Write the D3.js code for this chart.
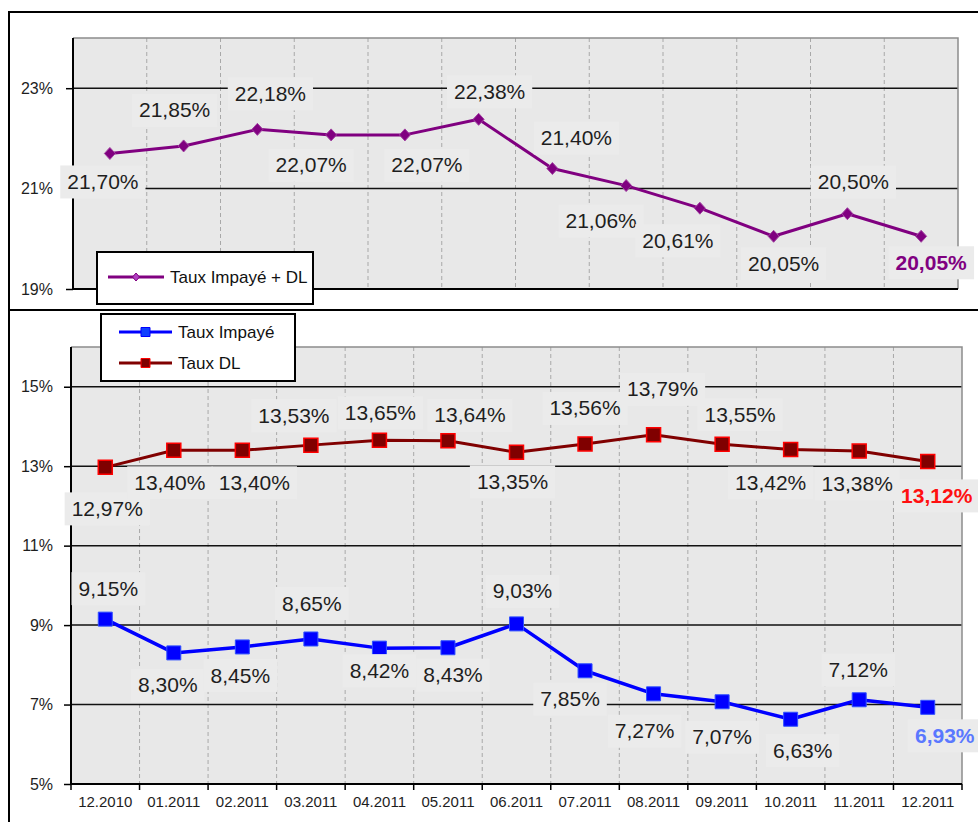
<!DOCTYPE html>
<html>
<head>
<meta charset="utf-8">
<script src="https://cdn.jsdelivr.net/npm/d3@7"></script>
<style>
  body { margin: 0; background: #fff; }
  svg { display: block; font-family: "Liberation Sans", Arial, sans-serif; }
</style>
</head>
<body>
<svg width="978" height="822"></svg>
<script>
var topCats = ["01.2011", "02.2011", "03.2011", "04.2011", "05.2011", "06.2011",
               "07.2011", "08.2011", "09.2011", "10.2011", "11.2011", "12.2011"];
var bottomCats = ["12.2010", "01.2011", "02.2011", "03.2011", "04.2011", "05.2011", "06.2011",
                  "07.2011", "08.2011", "09.2011", "10.2011", "11.2011", "12.2011"];

var tauxImpayeDL = [21.70, 21.85, 22.18, 22.07, 22.07, 22.38, 21.40, 21.06, 20.61, 20.05, 20.50, 20.05];
var tauxDL = [12.97, 13.40, 13.40, 13.53, 13.65, 13.64, 13.35, 13.56, 13.79, 13.55, 13.42, 13.38, 13.12];
var tauxImpaye = [9.15, 8.30, 8.45, 8.65, 8.42, 8.43, 9.03, 7.85, 7.27, 7.07, 6.63, 7.12, 6.93];

var topTicks = [19, 21, 23];
var bottomTicks = [5, 7, 9, 11, 13, 15];

// where each value label sits relative to its point
var offImpayeDL = [[-7, 28], [-9, -36], [13, -36], [-20, 30], [22, 30], [11, -28],
                   [24, -31], [-25, 35], [-22, 32], [10, 27], [6, -32], [10, 26]];
var offDL = [[2, 41], [-4, 32], [12, 32], [-17, -30], [1, -28], [22, -26], [-4, 29],
             [0, -36], [9, -46], [18, -30], [-20, 33], [-2, 32], [9, 34]];
var offImpaye = [[3, -31], [-6, 32], [-2, 28], [1, -36], [0, 22], [5, 27], [6, -33],
                 [-15, 28], [-9, 37], [0, 35], [12, 31], [-1, -30], [17, 28]];

var svg = d3.select("svg");
var pct = d3.formatLocale({decimal: ",", thousands: " ", grouping: [3], currency: ["", ""]}).format(".2f");
var textColor = "#1e1e1e";

// panel frames
svg.append("rect").attr("x", 9).attr("y", 12).attr("width", 990).attr("height", 298)
    .attr("fill", "#fff").attr("stroke", "#000").attr("stroke-width", 2);
svg.append("rect").attr("x", 9).attr("y", 310).attr("width", 990).attr("height", 530)
    .attr("fill", "#fff").attr("stroke", "#000").attr("stroke-width", 2);

var xTop = d3.scaleBand().domain(topCats).range([73, 958]);
var yTop = d3.scaleLinear().domain([19, 24]).range([289, 38]);
var xBot = d3.scaleBand().domain(bottomCats).range([71, 962]);
var yBot = d3.scaleLinear().domain([5, 16]).range([784, 347]);

function plotArea(x, y, ticks, padding) {
  var x0 = x.range()[0], x1 = x.range()[1], y0 = y.range()[0], y1 = y.range()[1];
  var g = svg.append("g");

  g.append("rect").attr("x", x0).attr("y", y1).attr("width", x1 - x0).attr("height", y0 - y1)
      .attr("fill", "#e8e8e8");

  g.selectAll(".vgrid")
    .data(x.domain().slice(1))
    .enter().append("line")
      .attr("x1", function(d) { return x(d); })
      .attr("x2", function(d) { return x(d); })
      .attr("y1", y1).attr("y2", y0)
      .attr("stroke", "#a8a8a8").attr("stroke-dasharray", "4,3");

  g.selectAll(".hgrid")
    .data(ticks.filter(function(t) { return t > y.domain()[0]; }))
    .enter().append("line")
      .attr("x1", x0).attr("x2", x1)
      .attr("y1", function(d) { return y(d); })
      .attr("y2", function(d) { return y(d); })
      .attr("stroke", "#111").attr("stroke-width", 1.5);

  // gray top / right border
  g.append("path")
      .attr("d", "M" + x0 + "," + y1 + "H" + x1 + "V" + y0)
      .attr("fill", "none").attr("stroke", "#8c8c8c").attr("stroke-width", 1.5);

  var ax = g.append("g")
      .attr("transform", "translate(" + x0 + ",0)")
      .call(d3.axisLeft(y).tickValues(ticks).tickSize(7).tickPadding(padding)
        .tickFormat(function(d) { return d + "%"; }));
  ax.select(".domain").remove();
  ax.selectAll(".tick line").attr("stroke", "#000").attr("stroke-width", 1.5);
  ax.selectAll(".tick text").attr("font-size", 16).attr("fill", textColor)
      .attr("font-family", "'Liberation Sans', Arial, sans-serif");

  g.append("path")
      .attr("d", "M" + x0 + "," + y1 + "V" + y0 + "H" + x1)
      .attr("fill", "none").attr("stroke", "#000").attr("stroke-width", 2);
  return g;
}

function drawSeries(g, values, cats, x, y, color, lineWidth, marker) {
  var cx = function(d, i) { return x(cats[i]) + x.bandwidth() / 2; };
  var line = d3.line().x(cx).y(function(d) { return y(d); });
  g.append("path").datum(values)
      .attr("d", line)
      .attr("fill", "none").attr("stroke", color).attr("stroke-width", lineWidth)
      .attr("stroke-linejoin", "round");
  g.selectAll(null).data(values)
    .enter().append("path")
      .attr("transform", function(d, i) { return "translate(" + cx(d, i) + "," + y(d) + ")"; })
      .attr("d", marker.d)
      .attr("fill", marker.fill).attr("stroke", marker.stroke).attr("stroke-width", marker.sw);
}

function drawLabels(g, values, cats, x, y, offsets, lastColor) {
  var lab = g.selectAll(null).data(values)
    .enter().append("g")
      .attr("transform", function(d, i) {
        return "translate(" + (x(cats[i]) + x.bandwidth() / 2 + offsets[i][0]) + "," + (y(d) + offsets[i][1]) + ")";
      });
  lab.append("rect").attr("fill", "#ebebeb");
  lab.append("text")
      .attr("text-anchor", "middle")
      .attr("dy", "0.36em")
      .attr("font-size", 21)
      .attr("font-weight", function(d, i) { return i == values.length - 1 ? "bold" : "normal"; })
      .attr("fill", function(d, i) { return i == values.length - 1 ? lastColor : textColor; })
      .text(function(d) { return pct(d) + "%"; });
  lab.each(function() {
    var b = d3.select(this).select("text").node().getBBox();
    d3.select(this).select("rect")
        .attr("x", b.x - 7).attr("width", b.width + 14)
        .attr("y", -16).attr("height", 33);
  });
}

function legend(x0, y0, w, h, items) {
  var g = svg.append("g");
  g.append("rect").attr("x", x0).attr("y", y0).attr("width", w).attr("height", h)
      .attr("fill", "#fff").attr("stroke", "#000").attr("stroke-width", 2);
  var it = g.selectAll(null).data(items)
    .enter().append("g")
      .attr("transform", function(d) { return "translate(" + d.x + "," + d.y + ")"; });
  it.append("line").attr("x1", 0).attr("x2", function(d) { return d.len; })
      .attr("stroke", function(d) { return d.color; }).attr("stroke-width", 3);
  it.append("path")
      .attr("transform", function(d) { return "translate(" + d.len / 2 + ",0)"; })
      .attr("d", function(d) { return d.marker.d; })
      .attr("fill", function(d) { return d.marker.fill; })
      .attr("stroke", function(d) { return d.marker.stroke; })
      .attr("stroke-width", 1);
  it.append("text")
      .attr("x", function(d) { return d.len + 6; })
      .attr("dy", "0.36em")
      .attr("font-size", 17).attr("fill", "#111")
      .text(function(d) { return d.name; });
}

var diamond = {d: "M0,-6L5.5,0L0,6L-5.5,0Z", fill: "#800080", stroke: "#a040a0", sw: 1};
var blueSq = {d: "M-7,-7H7V7H-7Z", fill: "#0000ff", stroke: "#3050ff", sw: 1};
var redSq = {d: "M-7,-7H7V7H-7Z", fill: "#800000", stroke: "#ff0000", sw: 1.5};

// top chart
var gTop = plotArea(xTop, yTop, topTicks, 13);
drawSeries(gTop, tauxImpayeDL, topCats, xTop, yTop, "#800080", 3, diamond);
drawLabels(gTop, tauxImpayeDL, topCats, xTop, yTop, offImpayeDL, "#800080");

// bottom chart
var gBot = plotArea(xBot, yBot, bottomTicks, 11);
var xAx = gBot.append("g")
    .attr("transform", "translate(0,784)")
    .call(d3.axisBottom(xBot).tickSize(0).tickPadding(12));
xAx.select(".domain").remove();
xAx.selectAll(".tick text").attr("font-size", 15).attr("fill", textColor)
    .attr("font-family", "'Liberation Sans', Arial, sans-serif");
gBot.selectAll(".xtick")
  .data(bottomCats.concat(["end"]))
  .enter().append("line")
    .attr("x1", function(d) { return d == "end" ? xBot.range()[1] : xBot(d); })
    .attr("x2", function(d) { return d == "end" ? xBot.range()[1] : xBot(d); })
    .attr("y1", 784).attr("y2", 790)
    .attr("stroke", "#000").attr("stroke-width", 1.5);

drawSeries(gBot, tauxDL, bottomCats, xBot, yBot, "#800000", 3, redSq);
drawSeries(gBot, tauxImpaye, bottomCats, xBot, yBot, "#0000ff", 3.5, blueSq);
drawLabels(gBot, tauxDL, bottomCats, xBot, yBot, offDL, "#ff1010");
drawLabels(gBot, tauxImpaye, bottomCats, xBot, yBot, offImpaye, "#5a78ff");

legend(97, 252, 216, 52, [
  {name: "Taux Impayé + DL", color: "#800080", x: 108, y: 277, len: 56,
   marker: {d: "M0,-4L3.5,0L0,4L-3.5,0Z", fill: "#b040c0", stroke: "#800080"}}
]);
legend(101, 314, 194, 67, [
  {name: "Taux Impayé", color: "#0000ff", x: 119, y: 332, len: 53,
   marker: {d: "M-4.5,-4.5H4.5V4.5H-4.5Z", fill: "#1040ff", stroke: "#0000ff"}},
  {name: "Taux DL", color: "#800000", x: 119, y: 363, len: 53,
   marker: {d: "M-4.5,-4.5H4.5V4.5H-4.5Z", fill: "#800000", stroke: "#ff0000"}}
]);
</script>
</body>
</html>
